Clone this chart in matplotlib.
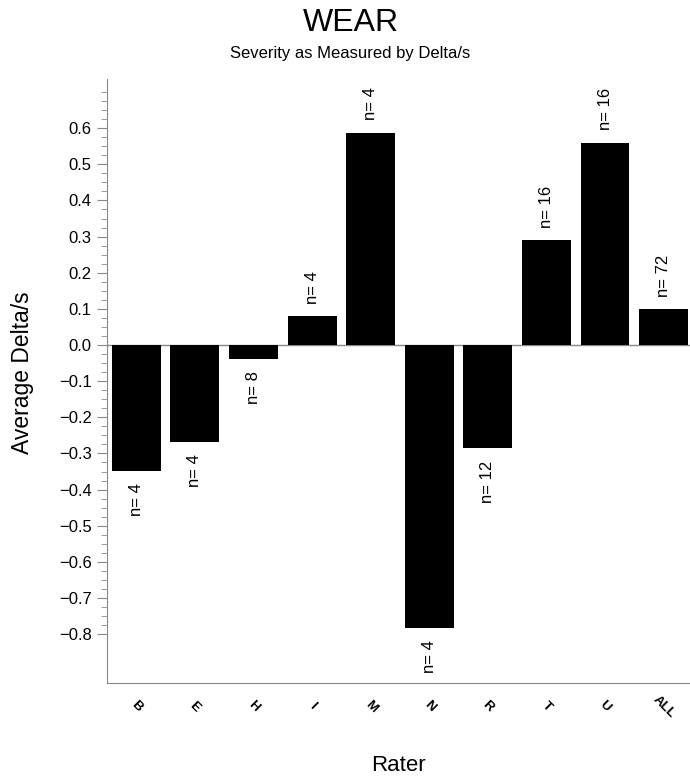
import matplotlib
matplotlib.use("Agg")
import matplotlib.pyplot as plt
import numpy as np

raters = ["B", "E", "H", "I", "M", "N", "R", "T", "U", "ALL"]
avg_delta = [-0.348, -0.268, -0.039, 0.080, 0.587, -0.782, -0.285, 0.290, 0.559, 0.099]
counts = [4, 4, 8, 4, 4, 4, 12, 16, 16, 72]

plt.rcParams["font.family"] = ["Liberation Sans", "DejaVu Sans"]

fig = plt.figure(figsize=(6.9, 7.8), dpi=100)
ax = fig.add_axes([0.155, 0.1244, 0.845, 0.7743])

x = np.arange(len(raters))
ax.bar(x, avg_delta, 0.835, color="black", zorder=3)
ax.axhline(0, color="#888888", linewidth=1, zorder=2)

# n= labels, above positive bars / below negative bars
for xi, v, n in zip(x, avg_delta, counts):
    if v >= 0:
        ax.annotate("n= %d" % n, (xi, v), xytext=(0, 9), textcoords="offset points",
                    rotation=90, ha="center", va="bottom", fontsize=12)
    else:
        ax.annotate("n= %d" % n, (xi, v), xytext=(0, -9), textcoords="offset points",
                    rotation=90, ha="center", va="top", fontsize=12)

ax.set_xlim(-0.5, 9.45)
ax.set_ylim(-0.935, 0.736)
yt = np.round(np.arange(-0.8, 0.61, 0.1), 1)
ax.set_yticks(yt)
ax.set_yticklabels([("%.1f" % abs(t)) if t >= 0 else "\u2212%.1f" % abs(t) for t in yt])
ax.set_yticks(np.arange(-0.8, 0.71, 0.025), minor=True)
ax.tick_params(axis="y", which="major", length=7, color="#888888", labelsize=12, pad=4)
ax.tick_params(axis="y", which="minor", length=4, color="#888888")
ax.set_xticks(x)
ax.set_xticklabels(raters, rotation=-45, fontsize=9.5, fontweight="bold", ha="center", va="center")
ax.tick_params(axis="x", length=0, pad=17)

for s in ["top", "right"]:
    ax.spines[s].set_visible(False)
for s in ["left", "bottom"]:
    ax.spines[s].set_color("#888888")

ax.set_ylabel("Average Delta/s", fontsize=16.5)
ax.yaxis.set_label_coords(-0.125, 0.513)
fig.text(0.578, 0.019, "Rater", ha="center", va="center", fontsize=16)

fig.text(0.508, 0.971, "WEAR", ha="center", va="center", fontsize=23)
fig.text(0.508, 0.931, "Severity as Measured by Delta/s", ha="center", va="center", fontsize=12)

fig.savefig("out.png", dpi=100)
